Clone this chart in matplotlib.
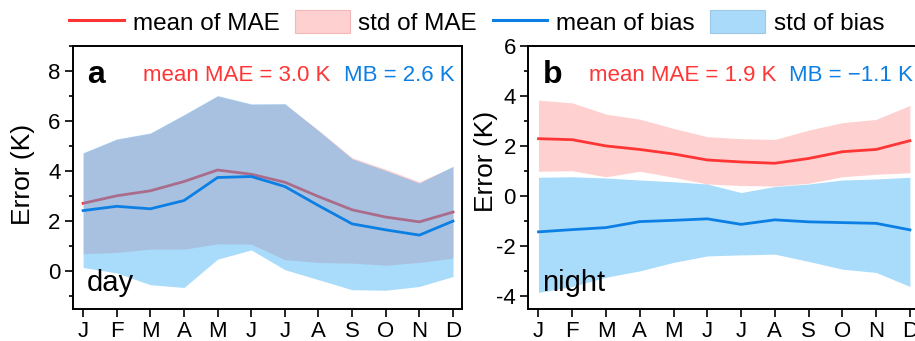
from matplotlib import pyplot as plt
from matplotlib import rcParams as mplParams
from matplotlib import lines, patches
import matplotlib.ticker as plticker

mplParams["font.family"] = ["Liberation Sans", "DejaVu Sans"]
mplParams["axes.unicode_minus"] = False

months = ["J", "F", "M", "A", "M", "J", "J", "A", "S", "O", "N", "D"]

# daytime errors (K)
mae_mean_day = [2.72, 3.02, 3.22, 3.59, 4.05, 3.88, 3.56, 2.99, 2.46, 2.17, 1.98, 2.37]
mae_hi_day = [4.72, 5.27, 5.51, 6.24, 7.00, 6.67, 6.68, 5.64, 4.54, 4.08, 3.58, 4.18]
mae_lo_day = [0.71, 0.76, 0.89, 0.89, 1.10, 1.09, 0.47, 0.36, 0.33, 0.25, 0.36, 0.53]
bias_mean_day = [2.43, 2.60, 2.50, 2.83, 3.75, 3.79, 3.39, 2.63, 1.90, 1.66, 1.45, 2.01]
bias_hi_day = [4.74, 5.29, 5.53, 6.26, 7.02, 6.69, 6.70, 5.62, 4.50, 4.03, 3.53, 4.20]
bias_lo_day = [0.16, -0.06, -0.53, -0.64, 0.49, 0.86, 0.07, -0.33, -0.73, -0.75, -0.60, -0.20]

# nighttime errors (K)
mae_mean_night = [2.30, 2.26, 2.01, 1.87, 1.69, 1.45, 1.37, 1.32, 1.51, 1.78, 1.87, 2.22]
mae_hi_night = [3.84, 3.73, 3.28, 3.08, 2.71, 2.38, 2.30, 2.27, 2.64, 2.94, 3.07, 3.63]
mae_lo_night = [1.00, 1.02, 0.78, 1.00, 0.76, 0.49, 0.43, 0.41, 0.52, 0.78, 0.88, 0.94]
bias_mean_night = [-1.42, -1.33, -1.25, -1.01, -0.96, -0.90, -1.12, -0.94, -1.02, -1.05, -1.08, -1.34]
bias_hi_night = [0.76, 0.78, 0.73, 0.65, 0.58, 0.49, 0.15, 0.39, 0.49, 0.65, 0.69, 0.76]
bias_lo_night = [-3.84, -3.60, -3.23, -2.98, -2.64, -2.38, -2.34, -2.31, -2.60, -2.91, -3.04, -3.60]

red = "#FF3535"
blue = "#0C7FE4"
pink = "#FFD0D0"
light_blue = (0.26, 0.69, 0.96)


def draw_panel(ax, data, ylim, yticks, letter, period, mae_txt, mb_txt, label_pos):
    mae_mean, mae_lo, mae_hi, bias_mean, bias_lo, bias_hi = data
    x = range(len(months))

    ax.fill_between(x, mae_lo, mae_hi, color=pink, lw=0, zorder=1)
    ax.plot(x, mae_mean, color=red, lw=2.0, zorder=2)
    ax.fill_between(x, bias_lo, bias_hi, color=light_blue, alpha=0.45, lw=0, zorder=3)
    ax.plot(x, bias_mean, color=blue, lw=2.0, zorder=4)

    ax.set_xlim(-0.3, 11.27)
    ax.set_ylim(*ylim)
    ax.set_xticks(list(x))
    ax.set_xticklabels(months)
    ax.set_yticks(yticks)
    ax.yaxis.set_minor_locator(plticker.MultipleLocator(1))

    ax.tick_params(axis="both", which="major", direction="out", length=6, width=1.2,
                   labelsize=16, top=False, right=False)
    ax.tick_params(axis="x", pad=2.5)
    ax.tick_params(axis="y", pad=3)
    ax.tick_params(axis="y", which="minor", direction="out", length=3, width=1.2)
    for sp in ax.spines.values():
        sp.set_linewidth(1.4)

    ax.set_ylabel("Error (K)", fontsize=19)
    ax.yaxis.set_label_coords(*label_pos)

    ax.text(0.037, 0.86, letter, transform=ax.transAxes, fontsize=23,
            fontweight="bold", zorder=6)
    ax.text(0.035, 0.07, period, transform=ax.transAxes, fontsize=21, zorder=6)
    ax.text(mae_txt[0], 0.866, mae_txt[1], transform=ax.transAxes, fontsize=16,
            color=red, zorder=6)
    ax.text(mb_txt[0], 0.866, mb_txt[1], transform=ax.transAxes, fontsize=16,
            color=blue, zorder=6)


fig = plt.figure(figsize=(9.15, 3.41), dpi=100)
ax_a = fig.add_axes([0.0798, 0.0938, 0.4252, 0.7713])
ax_b = fig.add_axes([0.5774, 0.0938, 0.4270, 0.7713])

draw_panel(ax_a,
           (mae_mean_day, mae_lo_day, mae_hi_day, bias_mean_day, bias_lo_day, bias_hi_day),
           (-1.5, 9), [0, 2, 4, 6, 8], "a", "day",
           (0.18, "mean MAE = 3.0 K"), (0.696, "MB = 2.6 K"), (-0.098, 0.51))
draw_panel(ax_b,
           (mae_mean_night, mae_lo_night, mae_hi_night, bias_mean_night, bias_lo_night, bias_hi_night),
           (-4.5, 6), [-4, -2, 0, 2, 4, 6], "b", "night",
           (0.156, "mean MAE = 1.9 K"), (0.668, "MB = \u22121.1 K"), (-0.077, 0.56))

handles = [
    lines.Line2D([], [], color=red, lw=2.2),
    patches.Patch(facecolor=pink, edgecolor="#F2B8B8", lw=0.8),
    lines.Line2D([], [], color=blue, lw=2.2),
    patches.Patch(facecolor="#A9DAF9", edgecolor="#9CC8E6", lw=0.8),
]
labels = ["mean of MAE", "std of MAE", "mean of bias", "std of bias"]
fig.legend(handles, labels, loc="center", bbox_to_anchor=(0.521, 1 - 22.5 / 341),
           ncol=4, frameon=False, fontsize=17.5, handlelength=2.25, handleheight=1.05,
           handletextpad=0.35, columnspacing=0.65, borderpad=0, borderaxespad=0)

fig.savefig("out.png", dpi=100)
